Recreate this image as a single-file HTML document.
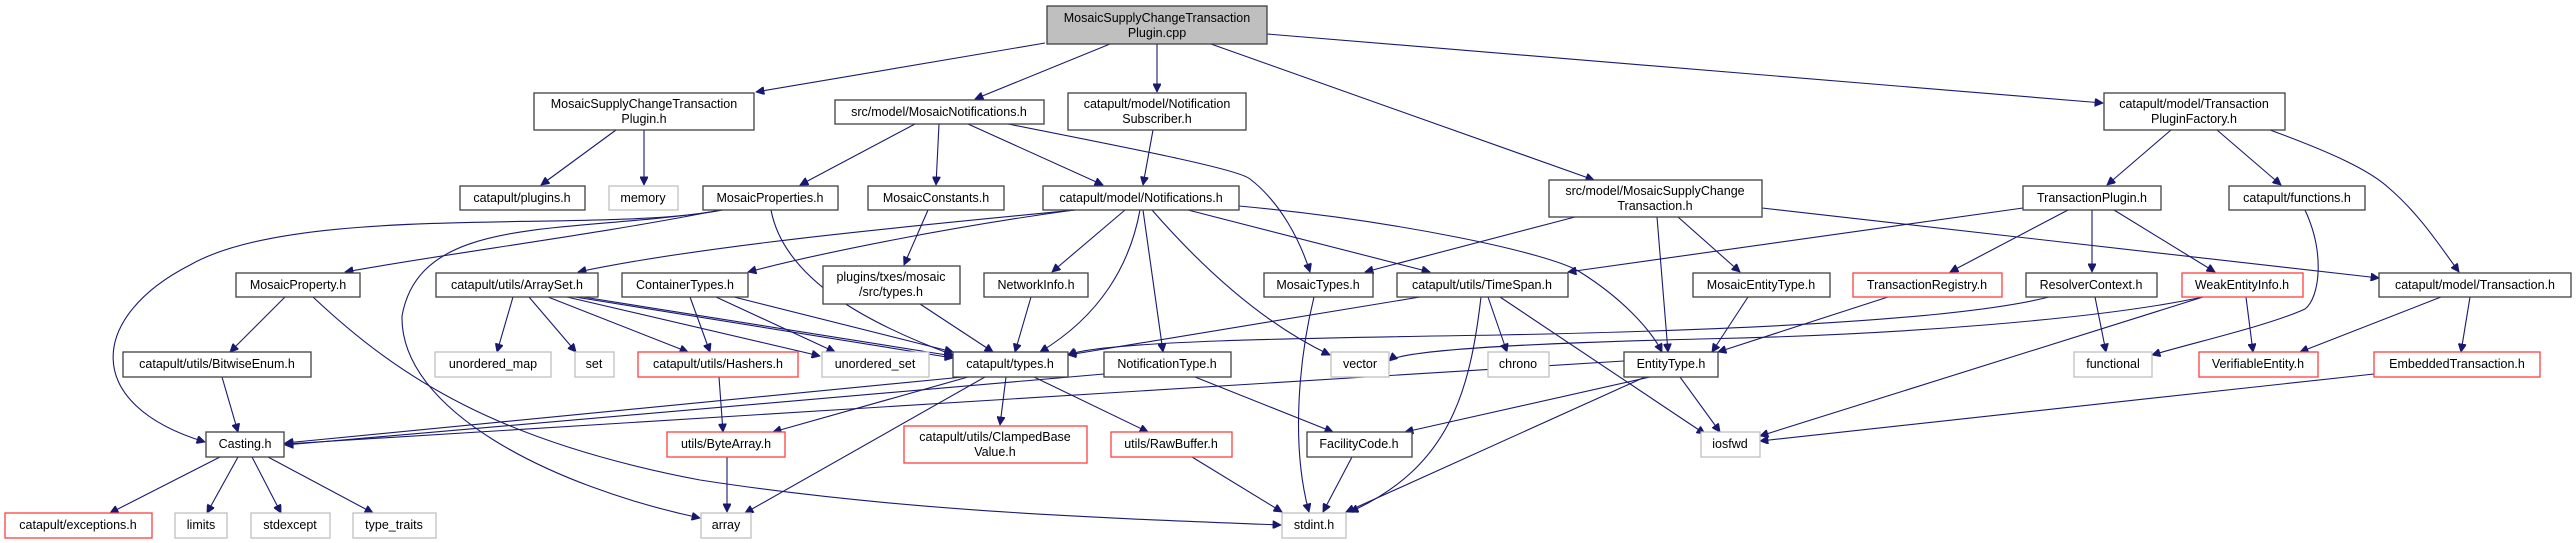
<!DOCTYPE html>
<html><head><meta charset="utf-8"><style>
html,body{margin:0;padding:0;background:#fff;overflow:hidden;}
svg{display:block;}
text{font-family:"Liberation Sans",Arial,sans-serif;font-size:12.5px;fill:#000;text-anchor:middle;}
.n rect{fill:#fff;stroke:#404040;stroke-width:1.3;}
.g rect{fill:#fff;stroke:#bfbfbf;stroke-width:1.3;}
.r rect{fill:#fff;stroke:#ff4040;stroke-width:1.3;}
.root rect{fill:#bfbfbf;stroke:#404040;stroke-width:1.3;}
path{fill:none;stroke:#191970;stroke-width:1.1;marker-end:url(#a);}
</style></head><body>
<svg width="2576" height="543" viewBox="0 0 2576 543" xmlns="http://www.w3.org/2000/svg">
<defs><marker id="a" viewBox="0 0 10 10" refX="10" refY="5" markerWidth="9" markerHeight="8" markerUnits="userSpaceOnUse" orient="auto"><path d="M0,0 L10,5 L0,10 z" style="fill:#191970;stroke:#191970;marker-end:none"/></marker></defs>

<!-- edges -->
<path d="M1045,43 L756,92"/>
<path d="M1110,44 L975,99"/>
<path d="M1157,44 L1157,92"/>
<path d="M1211,44 L1594,180"/>
<path d="M1267,34 L2103,103"/>
<path d="M616,130 L541,185"/>
<path d="M644,130 L644,185"/>
<path d="M915,124 L800,185"/>
<path d="M939,124 L936,185"/>
<path d="M968,124 L1103,185"/>
<path d="M1008,124 C1150,152 1240,170 1250,179 C1280,202 1300,240 1310,272"/>
<path d="M1153,130 L1143,185"/>
<path d="M720,210 C600,234 450,253 345,272"/>
<path d="M723,210 C600,234 300,202 190,265 C90,316 80,404 205,442"/>
<path d="M710,212 C560,234 420,215 402,316 C400,410 550,486 700,518"/>
<path d="M771,210 C785,284 880,328 953,355"/>
<path d="M928,210 L904,265"/>
<path d="M1076,210 C900,227 700,246 578,272"/>
<path d="M1074,210 C950,227 820,253 748,272"/>
<path d="M1125,210 L1052,272"/>
<path d="M1140,210 C1130,265 1100,316 1040,352"/>
<path d="M1143,210 L1163,352"/>
<path d="M1152,210 C1200,265 1260,322 1330,355"/>
<path d="M1188,210 L1430,272"/>
<path d="M1239,206 C1400,221 1550,253 1580,272 C1620,297 1650,328 1662,352"/>
<path d="M920,304 L993,352"/>
<path d="M1575,217 L1365,272"/>
<path d="M1657,217 L1668,352"/>
<path d="M1678,217 L1740,272"/>
<path d="M1762,208 L2379,278"/>
<path d="M2171,130 L2107,185"/>
<path d="M2217,130 L2281,185"/>
<path d="M2270,130 C2330,152 2370,170 2390,189 C2420,215 2440,246 2459,272"/>
<path d="M2023,208 L1568,272"/>
<path d="M2068,210 L1950,272"/>
<path d="M2092,210 L2092,272"/>
<path d="M2114,210 L2215,272"/>
<path d="M2305,210 C2325,253 2320,297 2305,309 C2270,325 2200,341 2152,355"/>
<path d="M1888,297 L1718,352"/>
<path d="M2049,297 C1950,322 1700,331 1500,335 C1300,338 1100,341 1068,355"/>
<path d="M2203,297 C2100,319 1900,335 1700,339 C1500,344 1400,351 1389,361"/>
<path d="M2246,297 L2253,352"/>
<path d="M2203,297 L1760,436"/>
<path d="M2095,297 L2106,352"/>
<path d="M2441,297 L2300,352"/>
<path d="M2470,297 L2461,352"/>
<path d="M2374,374 L1760,441"/>
<path d="M1748,297 L1712,352"/>
<path d="M285,297 L230,352"/>
<path d="M313,297 C400,379 500,442 700,480 C900,511 1100,518 1281,525"/>
<path d="M513,297 L497,352"/>
<path d="M529,297 L576,352"/>
<path d="M548,297 L688,352"/>
<path d="M567,297 L820,356"/>
<path d="M575,297 L953,358"/>
<path d="M583,297 L953,356"/>
<path d="M690,297 L710,352"/>
<path d="M716,297 L835,352"/>
<path d="M734,297 L953,352"/>
<path d="M222,377 L238,432"/>
<path d="M719,377 L723,432"/>
<path d="M1031,297 L1015,352"/>
<path d="M1314,297 C1300,354 1290,442 1309,512"/>
<path d="M1481,297 C1470,391 1450,467 1350,512"/>
<path d="M1488,297 L1507,352"/>
<path d="M1500,297 L1705,434"/>
<path d="M1420,297 L1068,355"/>
<path d="M963,377 L285,443"/>
<path d="M968,377 L773,432"/>
<path d="M985,377 L745,513"/>
<path d="M1006,377 L1000,425"/>
<path d="M1034,377 L1148,432"/>
<path d="M1104,374 L285,445"/>
<path d="M1195,377 L1333,432"/>
<path d="M1624,361 L285,444"/>
<path d="M1650,377 L1405,432"/>
<path d="M1645,377 L1346,512"/>
<path d="M1680,377 L1720,432"/>
<path d="M220,457 L110,513"/>
<path d="M238,457 L207,513"/>
<path d="M252,457 L281,513"/>
<path d="M268,457 L373,513"/>
<path d="M727,457 L727,512"/>
<path d="M1192,457 L1282,512"/>
<path d="M1352,457 L1323,512"/>

<!-- nodes -->
<g class="root"><rect x="1047" y="6" width="220" height="38"/><text x="1157" y="22">MosaicSupplyChangeTransaction</text><text x="1157" y="37">Plugin.cpp</text></g>
<g class="n"><rect x="534" y="93" width="220" height="37"/><text x="644" y="108">MosaicSupplyChangeTransaction</text><text x="644" y="123">Plugin.h</text></g>
<g class="n"><rect x="835" y="100" width="209" height="24"/><text x="939" y="116">src/model/MosaicNotifications.h</text></g>
<g class="n"><rect x="1068" y="93" width="178" height="37"/><text x="1157" y="108">catapult/model/Notification</text><text x="1157" y="123">Subscriber.h</text></g>
<g class="n"><rect x="2104" y="93" width="181" height="37"/><text x="2194" y="108">catapult/model/Transaction</text><text x="2194" y="123">PluginFactory.h</text></g>
<g class="n"><rect x="460" y="186" width="125" height="24"/><text x="522" y="202">catapult/plugins.h</text></g>
<g class="g"><rect x="609" y="186" width="69" height="24"/><text x="643" y="202">memory</text></g>
<g class="n"><rect x="703" y="186" width="135" height="24"/><text x="770" y="202">MosaicProperties.h</text></g>
<g class="n"><rect x="868" y="186" width="136" height="24"/><text x="936" y="202">MosaicConstants.h</text></g>
<g class="n"><rect x="1043" y="186" width="196" height="24"/><text x="1141" y="202">catapult/model/Notifications.h</text></g>
<g class="n"><rect x="1549" y="180" width="213" height="37"/><text x="1655" y="195">src/model/MosaicSupplyChange</text><text x="1655" y="210">Transaction.h</text></g>
<g class="n"><rect x="2023" y="186" width="138" height="24"/><text x="2092" y="202">TransactionPlugin.h</text></g>
<g class="n"><rect x="2229" y="186" width="136" height="24"/><text x="2297" y="202">catapult/functions.h</text></g>
<g class="n"><rect x="236" y="273" width="124" height="24"/><text x="298" y="289">MosaicProperty.h</text></g>
<g class="n"><rect x="436" y="273" width="162" height="24"/><text x="517" y="289">catapult/utils/ArraySet.h</text></g>
<g class="n"><rect x="622" y="273" width="126" height="24"/><text x="685" y="289">ContainerTypes.h</text></g>
<g class="n"><rect x="823" y="266" width="137" height="38"/><text x="891" y="281">plugins/txes/mosaic</text><text x="891" y="296">/src/types.h</text></g>
<g class="n"><rect x="984" y="273" width="104" height="24"/><text x="1036" y="289">NetworkInfo.h</text></g>
<g class="n"><rect x="1264" y="273" width="109" height="24"/><text x="1318" y="289">MosaicTypes.h</text></g>
<g class="n"><rect x="1397" y="273" width="171" height="24"/><text x="1482" y="289">catapult/utils/TimeSpan.h</text></g>
<g class="n"><rect x="1693" y="273" width="137" height="24"/><text x="1761" y="289">MosaicEntityType.h</text></g>
<g class="r"><rect x="1853" y="273" width="149" height="24"/><text x="1927" y="289">TransactionRegistry.h</text></g>
<g class="n"><rect x="2026" y="273" width="131" height="24"/><text x="2091" y="289">ResolverContext.h</text></g>
<g class="r"><rect x="2182" y="273" width="121" height="24"/><text x="2242" y="289">WeakEntityInfo.h</text></g>
<g class="n"><rect x="2379" y="273" width="192" height="24"/><text x="2475" y="289">catapult/model/Transaction.h</text></g>
<g class="n"><rect x="123" y="352" width="188" height="25"/><text x="217" y="368">catapult/utils/BitwiseEnum.h</text></g>
<g class="g"><rect x="435" y="352" width="116" height="25"/><text x="493" y="368">unordered_map</text></g>
<g class="g"><rect x="575" y="352" width="39" height="25"/><text x="594" y="368">set</text></g>
<g class="r"><rect x="638" y="352" width="160" height="25"/><text x="718" y="368">catapult/utils/Hashers.h</text></g>
<g class="g"><rect x="822" y="352" width="107" height="25"/><text x="875" y="368">unordered_set</text></g>
<g class="n"><rect x="953" y="352" width="115" height="25"/><text x="1010" y="368">catapult/types.h</text></g>
<g class="n"><rect x="1104" y="352" width="127" height="25"/><text x="1167" y="368">NotificationType.h</text></g>
<g class="g"><rect x="1331" y="352" width="58" height="25"/><text x="1360" y="368">vector</text></g>
<g class="g"><rect x="1488" y="352" width="61" height="25"/><text x="1518" y="368">chrono</text></g>
<g class="n"><rect x="1624" y="352" width="94" height="25"/><text x="1671" y="368">EntityType.h</text></g>
<g class="g"><rect x="2074" y="352" width="78" height="25"/><text x="2113" y="368">functional</text></g>
<g class="r"><rect x="2199" y="352" width="119" height="25"/><text x="2258" y="368">VerifiableEntity.h</text></g>
<g class="r"><rect x="2374" y="352" width="166" height="25"/><text x="2457" y="368">EmbeddedTransaction.h</text></g>
<g class="n"><rect x="206" y="432" width="78" height="25"/><text x="245" y="448">Casting.h</text></g>
<g class="r"><rect x="667" y="432" width="118" height="25"/><text x="726" y="448">utils/ByteArray.h</text></g>
<g class="r"><rect x="904" y="426" width="183" height="37"/><text x="995" y="441">catapult/utils/ClampedBase</text><text x="995" y="456">Value.h</text></g>
<g class="r"><rect x="1111" y="432" width="121" height="25"/><text x="1171" y="448">utils/RawBuffer.h</text></g>
<g class="n"><rect x="1307" y="432" width="105" height="25"/><text x="1359" y="448">FacilityCode.h</text></g>
<g class="g"><rect x="1701" y="432" width="59" height="25"/><text x="1730" y="448">iosfwd</text></g>
<g class="r"><rect x="5" y="513" width="147" height="25"/><text x="78" y="529">catapult/exceptions.h</text></g>
<g class="g"><rect x="175" y="513" width="52" height="25"/><text x="201" y="529">limits</text></g>
<g class="g"><rect x="251" y="513" width="79" height="25"/><text x="290" y="529">stdexcept</text></g>
<g class="g"><rect x="353" y="513" width="83" height="25"/><text x="394" y="529">type_traits</text></g>
<g class="g"><rect x="701" y="513" width="50" height="25"/><text x="726" y="529">array</text></g>
<g class="g"><rect x="1282" y="513" width="64" height="25"/><text x="1314" y="529">stdint.h</text></g>
</svg>
</body></html>
